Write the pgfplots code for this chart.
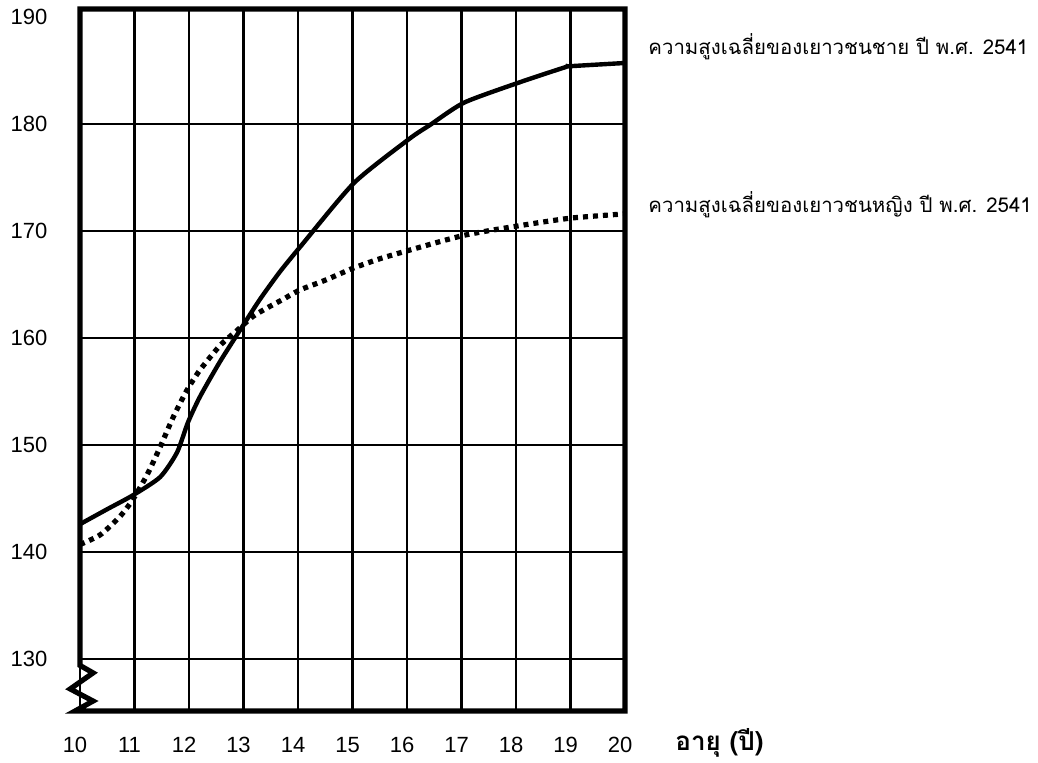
\documentclass[border=0pt]{standalone}
\usepackage{fontspec}
\setmainfont{Liberation Sans}
\newfontfamily\thaifont[Script=Thai]{Loma}
\usepackage{pgfplots}
\pgfplotsset{compat=1.18}

\begin{document}
\begin{tikzpicture}
\begin{axis}[
    at={(40pt,26pt)},
    anchor=south west,
    x=27.25pt, y=5.35pt,
    xmin=10, xmax=20,
    ymin=125.14, ymax=190.75,
    clip=false,
    axis line style={draw=none},
    major tick length=0pt,
    xtick={10,11,...,20},
    ytick={130,140,150,160,170,180},
    extra y ticks={190},
    extra y tick style={ymajorgrids=false},
    grid=major,
    major grid style={black, line width=1.2pt},
    /pgf/number format/assume math mode=true,
    ticklabel style={font=\fontsize{11}{13}\selectfont},
    yticklabel style={xshift=-12.8pt},
    xticklabel style={yshift=-9.3pt, xshift=-2.5pt, text height=8pt, text depth=0pt},
]
% male (solid)
\addplot[black, line width=2.2pt, smooth, tension=0.4] coordinates {
    (10.00,142.6) (10.50,144.0) (10.97,145.3) (11.47,147.0) (11.78,149.3)
    (11.98,152.1) (12.20,154.5) (12.57,157.8) (12.97,161.0) (13.30,163.6)
    (13.67,166.2) (14.07,168.7) (15.03,174.5) (16.04,178.6) (16.42,179.9)
    (17.05,182.0) (18.07,183.9) (18.90,185.3) (19.00,185.4) (20.00,185.7)
};
% female (dotted)
\addplot[black, line width=2.6pt, dash pattern=on 2.5pt off 2.5pt, smooth, tension=0.4] coordinates {
    (10.00,140.7) (10.37,141.6) (10.73,143.3) (10.97,144.9) (11.23,147.2)
    (11.47,149.8) (11.71,152.6) (11.96,155.1) (12.20,157.0) (12.57,159.3)
    (12.88,160.7) (13.17,162.0) (13.43,162.8) (13.72,163.6) (14.04,164.5)
    (14.50,165.4) (15.00,166.5) (15.50,167.4) (16.04,168.2) (17.05,169.6)
    (18.07,170.5) (19.00,171.2) (20.00,171.6)
};
% frame with broken axis zigzag
\draw[line width=2.6pt, line join=miter]
    (10,129.4) -- (10.24,128.7) -- (9.82,127.2) -- (10.24,126.07) -- (9.91,125.14)
    -- (20,125.14) -- (20,190.75) -- (10,190.75) -- cycle;
\end{axis}
\node[anchor=west, inner sep=0pt, font=\thaifont\fontsize{10.2}{12}\selectfont]
    at (324pt,358pt) {ความสูงเฉลี่ยของเยาวชนชาย ปี พ.ศ. 2541};
\node[anchor=west, inner sep=0pt, font=\thaifont\fontsize{10.2}{12}\selectfont]
    at (324pt,279pt) {ความสูงเฉลี่ยของเยาวชนหญิง ปี พ.ศ. 2541};
\node[anchor=west, inner sep=0pt, font=\thaifont\bfseries\fontsize{13}{15}\selectfont]
    at (337.5pt,10pt) {อายุ (ปี)};
\pgfresetboundingbox
\useasboundingbox (0,0) rectangle (519pt,381.5pt);
\end{tikzpicture}
\end{document}
